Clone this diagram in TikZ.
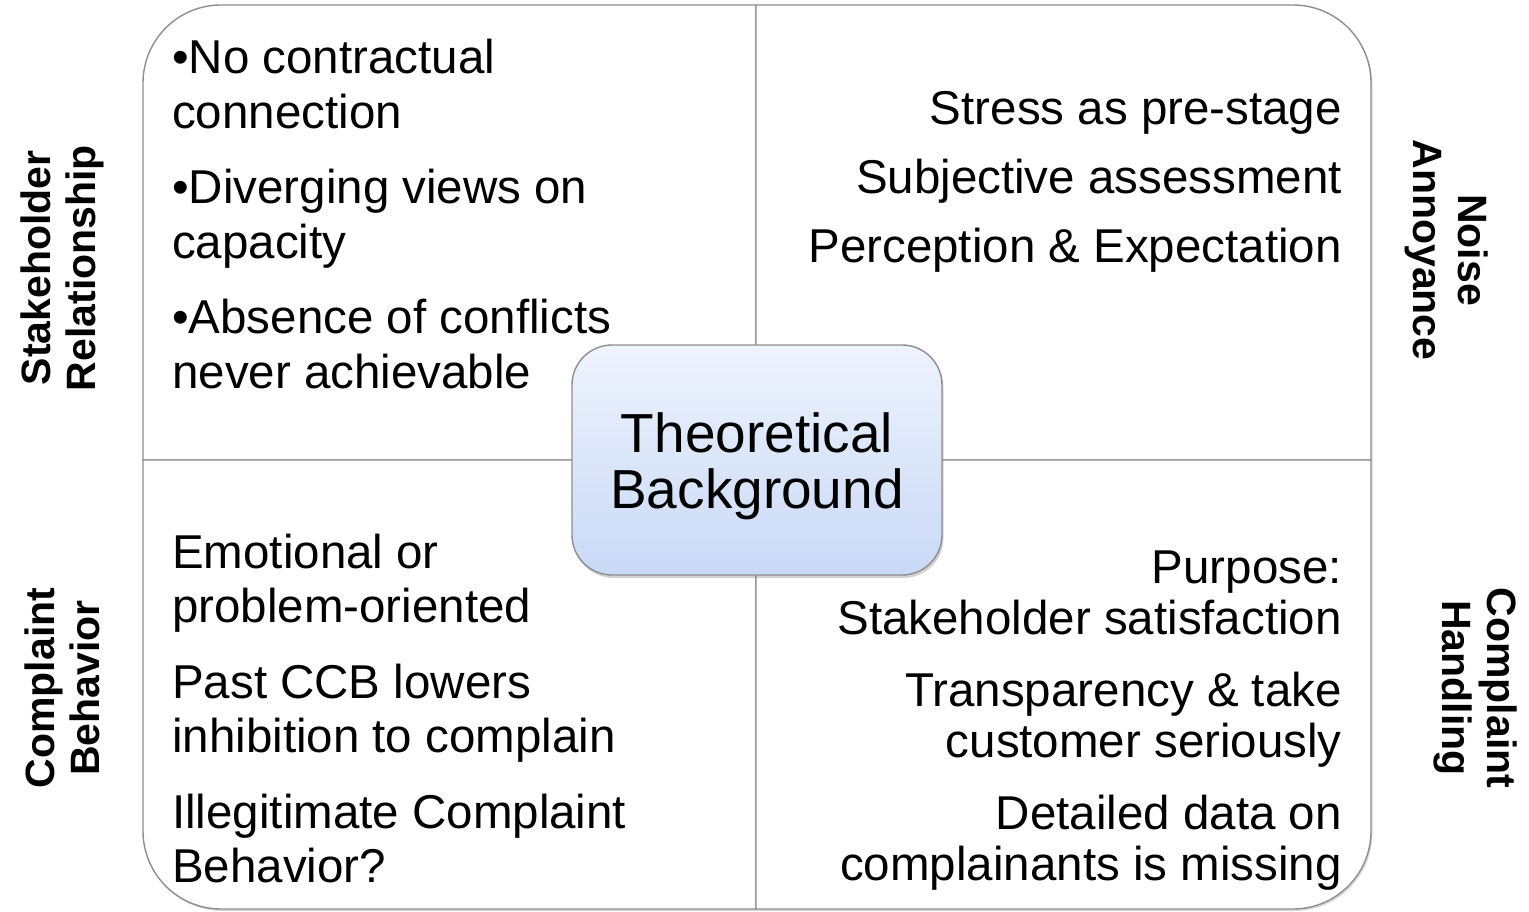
\documentclass[tikz,border=0pt]{standalone}
\usepackage{fontspec}
\setmainfont{Liberation Sans}
\usetikzlibrary{shadows}
\definecolor{frame}{HTML}{8E8E8E}
\definecolor{coretop}{HTML}{EEF3FD}
\definecolor{corebottom}{HTML}{C9D9F6}

\begin{document}
\begin{tikzpicture}[x=1pt,y=-1pt,
  quad/.style={draw=frame, line width=1.4pt, fill=white,
    drop shadow={shadow xshift=1.5pt, shadow yshift=-2pt, opacity=0.3}},
  body/.style={inner sep=0pt, font=\fontsize{47.5}{55}\selectfont},
  side/.style={inner sep=0pt, align=center, font=\fontsize{41}{45}\selectfont\bfseries},
  corebox/.style={draw=frame, line width=1.4pt, rounded corners=40pt,
    minimum width=370pt, minimum height=230pt,
    top color=coretop, bottom color=corebottom,
    drop shadow={shadow xshift=1.5pt, shadow yshift=-3pt, opacity=0.35}},
  coretext/.style={inner sep=0pt, align=center, font=\fontsize{55}{56}\selectfont}
]
\useasboundingbox (0,0) rectangle (1529,912);

% four quadrants, each rounded at its outer corner
\path[quad] (143,460) -- (143,83) .. controls (143,39.9) and (177.9,5) .. (221,5)
  -- (756,5) -- (756,460) -- cycle;
\path[quad] (756,5) -- (1293,5) .. controls (1336.1,5) and (1371,39.9) .. (1371,83)
  -- (1371,460) -- (756,460) -- cycle;
\path[quad] (143,460) -- (756,460) -- (756,909) -- (221,909)
  .. controls (177.9,909) and (143,874.1) .. (143,831) -- cycle;
\path[quad] (756,460) -- (1371,460) -- (1371,831)
  .. controls (1371,874.1) and (1336.1,909) .. (1293,909) -- (756,909) -- cycle;

% quadrant contents (base anchor = baseline of the last line)
\node[body, anchor=base west, align=left] (rel) at (172,388)
  {•No contractual\\connection\\[20pt]•Diverging views on\\capacity\\[20pt]•Absence of conflicts\\never achievable};
\node[body, anchor=base east, align=right] (noisetxt) at (1342,262)
  {Stress as pre-stage\\[14pt]Subjective assessment\\[14pt]Perception \& Expectation};
\node[body, anchor=base west, align=left, font=\fontsize{47.5}{54}\selectfont] (behtxt) at (172,882)
  {Emotional or\\problem-oriented\\[22pt]Past CCB lowers\\inhibition to complain\\[22pt]Illegitimate Complaint\\Behavior?};
\node[body, anchor=base east, align=right, font=\fontsize{47.5}{51}\selectfont] (handtxt) at (1342,880)
  {Purpose:\\Stakeholder satisfaction\\[21pt]Transparency \& take\\customer seriously\\[21pt]Detailed data on\\complainants is missing};

% centre box
\node[corebox] (core) at (757,460) {};
\node[coretext, yshift=-6pt] (coretitle) at (core.center) {Theoretical\\Background};

% side labels
\node[side, rotate=90] (stake) at (62,268) {Stakeholder\\Relationship};
\node[side, rotate=-90] (noise) at (1447,250) {Noise\\Annoyance};
\node[side, rotate=90] (behav) at (62,688) {Complaint\\Behavior};
\node[side, rotate=-90] (handl) at (1475,688) {Complaint\\Handling};
\end{tikzpicture}
\end{document}
